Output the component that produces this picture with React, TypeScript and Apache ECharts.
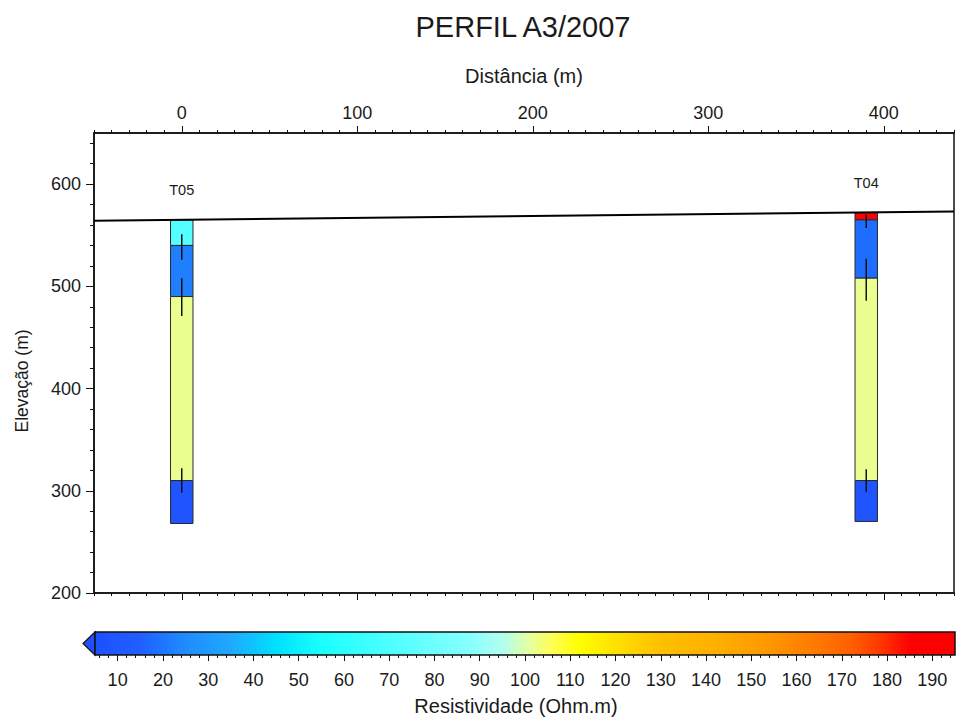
import React, { useEffect, useRef } from "react";
import * as echarts from "echarts";

// Axis tick labels
const distanceTicks = [0, 100, 200, 300, 400];
const elevationTicks = [200, 300, 400, 500, 600];
const resistivityTicks = [10, 20, 30, 40, 50, 60, 70, 80, 90, 100, 110, 120, 130, 140, 150, 160, 170, 180, 190];

// Soundings: name and position along the profile (m)
const wellNames = ["T05", "T04"];
const wellDistance = [0, 390];

// Layer interfaces (elevation, m) from the surface down to the base of each sounding
const t05Interfaces = [565, 540, 490, 310, 268];
const t05Resistivity = [72, 22, 102, 8];
const t05InterfaceRange = [
  [551, 526],
  [508, 471],
  [322, 298],
];

const t04Interfaces = [572, 565, 508, 310, 270];
const t04Resistivity = [190, 18, 102, 8];
const t04InterfaceRange = [
  [570, 557],
  [527, 486],
  [321, 299],
];

// Ground surface along the profile
const surfaceDistance = [-50, 440];
const surfaceElevation = [564.2, 573.3];

// Resistivity colour scale (Ohm.m)
const scaleValues = [5, 15, 25, 35, 45, 55, 70, 88, 95, 101, 106, 112, 121, 130, 142, 153, 162, 172, 179, 185, 195];
const scaleColors = [
  "#1f4fff", "#1f5fff", "#1f8cff", "#1fa8ff", "#00e0ff", "#1affff", "#4dffff", "#88ffff",
  "#b0fff0", "#e6ffa0", "#ffff55", "#ffff00", "#ffdd00", "#ffc000", "#ffb000", "#ff9900",
  "#ff8000", "#ff6000", "#ff3300", "#ff0000", "#ff0000",
];

const FONT = "'Liberation Sans', Arial, Helvetica, sans-serif";
const TEXT = "#1a1a1a";
const HALF_WIDTH = 6.4; // half width of a sounding column, m

function hexToRgb(h: string): number[] {
  const n = parseInt(h.slice(1), 16);
  return [(n >> 16) & 255, (n >> 8) & 255, n & 255];
}

function colorFor(v: number): string {
  if (v <= scaleValues[0]) return scaleColors[0];
  const last = scaleValues.length - 1;
  if (v >= scaleValues[last]) return scaleColors[last];
  let i = 0;
  while (scaleValues[i + 1] < v) i++;
  const t = (v - scaleValues[i]) / (scaleValues[i + 1] - scaleValues[i]);
  const a = hexToRgb(scaleColors[i]);
  const b = hexToRgb(scaleColors[i + 1]);
  const c = a.map((x, k) => Math.round(x + (b[k] - x) * t));
  return `rgb(${c[0]},${c[1]},${c[2]})`;
}

function range(a: number, b: number, step: number): number[] {
  const out: number[] = [];
  for (let v = a; v <= b + 1e-9; v += step) out.push(v);
  return out;
}

export default function App() {
  const ref = useRef<HTMLDivElement>(null);

  useEffect(() => {
    if (!ref.current) return;
    const chart = echarts.init(ref.current, null, { renderer: "svg" });

    const interfaces = [t05Interfaces, t04Interfaces];
    const resist = [t05Resistivity, t04Resistivity];
    const ranges = [t05InterfaceRange, t04InterfaceRange];

    const layerData: number[][] = [];
    const barData: number[][] = [];
    interfaces.forEach((iface, w) => {
      resist[w].forEach((r, k) => {
        layerData.push([wellDistance[w], iface[k], iface[k + 1], r]);
      });
      ranges[w].forEach((rg) => barData.push([wellDistance[w], rg[0], rg[1]]));
    });
    const labelData = wellDistance.map((d, w) => [d, interfaces[w][0]]);

    const vMin = scaleValues[0];
    const vMax = scaleValues[scaleValues.length - 1];
    const stops = scaleValues.map((v, i) => ({ offset: (v - vMin) / (vMax - vMin), color: scaleColors[i] }));

    const axisLine = { show: true, onZero: false, lineStyle: { color: "#111", width: 1.5 } };
    const noLine = { show: false, onZero: false };
    const tickStyle = { color: "#111", width: 1 };
    const labelStyle = { color: TEXT, fontFamily: FONT, fontSize: 18 };

    const option: any = {
      animation: false,
      backgroundColor: "#fff",
      graphic: [
        {
          type: "text",
          x: 523,
          y: 27,
          style: {
            text: "PERFIL A3/2007",
            fontSize: 29,
            fontFamily: FONT,
            fill: TEXT,
            textAlign: "center",
            textVerticalAlign: "middle",
          },
        },
        {
          type: "text",
          x: 22,
          y: 381,
          rotation: Math.PI / 2,
          style: {
            text: "Elevação (m)",
            fontSize: 17.5,
            fontFamily: FONT,
            fill: TEXT,
            textAlign: "center",
            textVerticalAlign: "middle",
          },
        },
        {
          type: "text",
          x: 516,
          y: 706,
          style: {
            text: "Resistividade (Ohm.m)",
            fontSize: 20,
            fontFamily: FONT,
            fill: TEXT,
            textAlign: "center",
            textVerticalAlign: "middle",
          },
        },
      ],
      grid: [
        { left: 94, top: 133, width: 860, height: 460, show: true, borderColor: "#111", borderWidth: 1.5, backgroundColor: "transparent" },
        { left: 95, top: 632, width: 860, height: 23 },
      ],
      xAxis: [
        {
          gridIndex: 0, type: "value", position: "top", min: -50, max: 440,
          axisLine, splitLine: { show: false },
          axisTick: { show: true, customValues: distanceTicks, length: 7, lineStyle: tickStyle },
          axisLabel: { ...labelStyle, customValues: distanceTicks, margin: 11 },
          name: "Distância (m)", nameLocation: "middle", nameGap: 47,
          nameTextStyle: { color: TEXT, fontFamily: FONT, fontSize: 20 },
        },
        {
          gridIndex: 0, type: "value", position: "top", min: -50, max: 440,
          axisLine: noLine, splitLine: { show: false },
          axisTick: { show: true, customValues: range(-50, 440, 10), length: 3, lineStyle: tickStyle },
          axisLabel: { show: false },
        },
        {
          gridIndex: 0, type: "value", position: "bottom", min: -50, max: 440,
          axisLine, splitLine: { show: false },
          axisTick: { show: true, customValues: distanceTicks, length: 7, lineStyle: tickStyle },
          axisLabel: { show: false },
        },
        {
          gridIndex: 0, type: "value", position: "bottom", min: -50, max: 440,
          axisLine: noLine, splitLine: { show: false },
          axisTick: { show: true, customValues: range(-50, 440, 10), length: 3, lineStyle: tickStyle },
          axisLabel: { show: false },
        },
        {
          gridIndex: 1, type: "value", position: "bottom", min: vMin, max: vMax,
          axisLine: noLine, splitLine: { show: false },
          axisTick: { show: true, customValues: resistivityTicks, length: 6, lineStyle: tickStyle },
          axisLabel: { ...labelStyle, customValues: resistivityTicks, margin: 16 },
        },
        {
          gridIndex: 1, type: "value", position: "bottom", min: vMin, max: vMax,
          axisLine: noLine, splitLine: { show: false },
          axisTick: { show: true, customValues: range(6, 194, 2), length: 3, lineStyle: tickStyle },
          axisLabel: { show: false },
        },
      ],
      yAxis: [
        {
          gridIndex: 0, type: "value", position: "left", min: 200, max: 650,
          axisLine, splitLine: { show: false },
          axisTick: { show: true, customValues: elevationTicks, length: 8, lineStyle: tickStyle },
          axisLabel: { ...labelStyle, customValues: elevationTicks, margin: 13 },
        },
        {
          gridIndex: 0, type: "value", position: "left", min: 200, max: 650,
          axisLine: noLine, splitLine: { show: false },
          axisTick: { show: true, customValues: range(200, 640, 20), length: 4, lineStyle: tickStyle },
          axisLabel: { show: false },
        },
        { gridIndex: 1, type: "value", min: 0, max: 1, show: false },
      ],
      series: [
        {
          type: "custom",
          xAxisIndex: 0,
          yAxisIndex: 0,
          data: layerData,
          z: 2,
          renderItem: (_p: any, api: any) => {
            const x = api.value(0);
            const a = api.coord([x - HALF_WIDTH, api.value(1)]);
            const b = api.coord([x + HALF_WIDTH, api.value(2)]);
            return {
              type: "rect",
              shape: { x: a[0], y: a[1], width: b[0] - a[0], height: b[1] - a[1] },
              style: { fill: colorFor(api.value(3)), stroke: "#2a2a2a", lineWidth: 1 },
            };
          },
        },
        {
          type: "custom",
          xAxisIndex: 0,
          yAxisIndex: 0,
          data: barData,
          z: 3,
          renderItem: (_p: any, api: any) => {
            const a = api.coord([api.value(0), api.value(1)]);
            const b = api.coord([api.value(0), api.value(2)]);
            return {
              type: "line",
              shape: { x1: a[0], y1: a[1], x2: b[0], y2: b[1] },
              style: { stroke: "#111", lineWidth: 1.5 },
            };
          },
        },
        {
          type: "custom",
          xAxisIndex: 0,
          yAxisIndex: 0,
          data: labelData,
          z: 4,
          renderItem: (p: any, api: any) => {
            const a = api.coord([api.value(0), api.value(1)]);
            return {
              type: "text",
              x: a[0],
              y: a[1] - 30,
              style: {
                text: wellNames[p.dataIndex],
                fontSize: 14.5,
                fontFamily: FONT,
                fill: TEXT,
                textAlign: "center",
                textVerticalAlign: "middle",
              },
            };
          },
        },
        {
          type: "line",
          xAxisIndex: 0,
          yAxisIndex: 0,
          data: surfaceDistance.map((d, i) => [d, surfaceElevation[i]]),
          symbol: "none",
          lineStyle: { color: "#000", width: 2 },
          z: 5,
        },
        {
          type: "custom",
          xAxisIndex: 4,
          yAxisIndex: 2,
          data: [[vMin, vMax]],
          renderItem: (_p: any, api: any) => {
            const a = api.coord([api.value(0), 1]);
            const b = api.coord([api.value(1), 0]);
            const h = b[1] - a[1];
            return {
              type: "group",
              children: [
                {
                  type: "polygon",
                  shape: { points: [[a[0], a[1]], [a[0] - 12, a[1] + h / 2], [a[0], b[1]]] },
                  style: { fill: colorFor(vMin), stroke: "#111", lineWidth: 1.2 },
                },
                {
                  type: "rect",
                  shape: { x: a[0], y: a[1], width: b[0] - a[0], height: h },
                  style: {
                    fill: new echarts.graphic.LinearGradient(0, 0, 1, 0, stops),
                    stroke: "#111",
                    lineWidth: 1.5,
                  },
                },
              ],
            };
          },
        },
      ],
    };

    chart.setOption(option);
    return () => chart.dispose();
  }, []);

  return <div ref={ref} style={{ position: "fixed", left: 0, top: 0, width: 956, height: 722 }} />;
}
